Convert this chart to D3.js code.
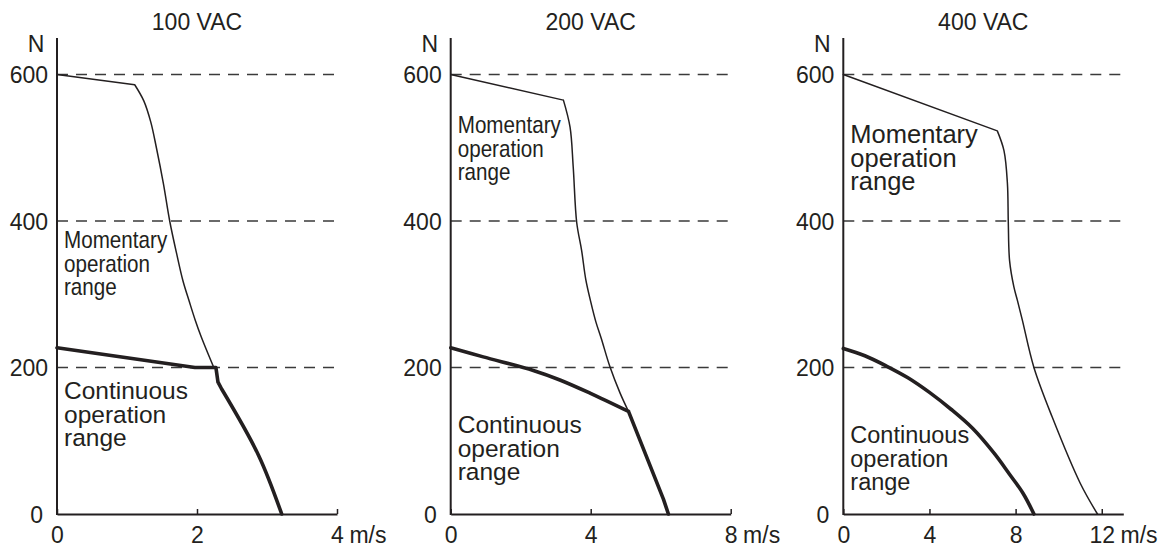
<!DOCTYPE html>
<html><head><meta charset="utf-8">
<script src="https://cdn.jsdelivr.net/npm/d3@7"></script>
<style>
body{margin:0;background:#fff}
svg{display:block}
text{font-family:"Liberation Sans",Arial,Helvetica,sans-serif;fill:#231f20}
</style>
</head><body>
<svg id="chart" width="1176" height="548"></svg>
<script>
// ---------- data ----------
const panelTitles = ["100 VAC", "200 VAC", "400 VAC"];
const xMaxValues = [4, 8, 13];
const xTickValues = [[0, 2, 4], [0, 4, 8], [0, 4, 8, 12]];
const yTickValues = [0, 200, 400, 600];
const gridValues = [200, 400, 600];
const xUnit = "m/s";
const yUnit = "N";

const momentary100 = [[0,600],[1.11,586],[1.24,564],[1.34,535],[1.42,500],[1.52,451],[1.61,400],[1.71,355],[1.80,318],[1.89,290],[1.97,266],[2.06,242],[2.24,200]];
const continuous100 = [[0,227],[1.97,200],[2.27,200],[2.30,180],[2.35,171],[2.88,80],[3.21,0]];

const momentary200 = [[0,600],[3.22,565],[3.41,528],[3.50,474],[3.60,398],[3.74,360],[3.86,320],[4.00,290],[4.15,262],[4.30,240],[4.55,201],[4.84,165],[5.08,140]];
const continuous200 = [[0,227],[0.93,214.5],[2.36,196],[3.12,183],[3.98,165],[5.08,140],[6.08,20],[6.22,0]];

const momentary400 = [[0,600],[7.15,523],[7.46,496],[7.62,451],[7.66,399],[7.72,346],[7.92,310],[8.08,292],[8.31,265],[8.85,200],[9.69,133],[11.0,42],[11.8,0]];
const continuous400 = [[0,226],[1,216],[2,202],[3,186],[4,166],[5,143],[6,117],[7,83],[7.7,55],[8.35,28],[8.85,0]];

const momentarySeries = [momentary100, momentary200, momentary400];
const continuousSeries = [continuous100, continuous200, continuous400];

const momentaryText = ["Momentary", "operation", "range"];
const continuousText = ["Continuous", "operation", "range"];
// label anchors (first baseline, in N units)
const momentaryLabelN = [362.7, 519.6, 506];
const continuousLabelN = [156.8, 110, 96.4];

// ---------- layout / style ----------
// indexes of sharp corners in each line (line is smoothed between corners)
const momentaryCorners = [[1], [1], [1]];
const continuousCorners = [[1, 2, 3, 4], [5, 6], []];

const svg = d3.select("#chart");
const plotW = 280, yBottom = 514, yTopTick = 74.5, axisTop = 38;
const lefts = [57, 450.7, 843.3];
const ink = "#231f20";
const momStyle = [{size:24, sx:0.86},{size:24, sx:0.86},{size:25.5, sx:1}];
const contSize = [24.5, 24.5, 23.5];

function pieces(data, corners) {
  const cuts = [0, ...corners, data.length - 1];
  const out = [];
  for (let k = 0; k < cuts.length - 1; k++) out.push(data.slice(cuts[k], cuts[k + 1] + 1));
  return out;
}

panelTitles.forEach((title, i) => {
  const g = svg.append("g").attr("transform", `translate(${lefts[i]},0)`);
  const x = d3.scaleLinear().domain([0, xMaxValues[i]]).range([0, plotW]);
  const y = d3.scaleLinear().domain([0, 600]).range([yBottom, yTopTick]);

  // dashed grid
  g.selectAll("line.grid").data(gridValues).join("line")
    .attr("class","grid")
    .attr("x1", 0).attr("x2", plotW)
    .attr("y1", d => y(d)).attr("y2", d => y(d))
    .attr("stroke", "#3a3a3a").attr("stroke-width", 1.3)
    .attr("stroke-dasharray", "11,8");

  // x axis
  const xAxis = d3.axisBottom(x).tickValues(xTickValues[i]).tickSize(-5).tickSizeOuter(0).tickFormat(d3.format("d"));
  const xg = g.append("g").attr("transform", `translate(0,${yBottom})`).call(xAxis);
  xg.select(".domain").attr("stroke", ink).attr("stroke-width", 2);
  xg.selectAll(".tick line").attr("stroke", ink).attr("stroke-width", 1.5);
  xg.selectAll(".tick text").attr("y", 29).attr("dy", 0)
    .style("font-size", "23px").attr("fill", ink);
  const lastTick = xTickValues[i][xTickValues[i].length - 1];
  const lastText = xg.selectAll(".tick text").filter(d => d === lastTick).node();
  const lw = lastText.getComputedTextLength();
  g.append("text").attr("x", x(lastTick) + lw / 2 + 6).attr("y", yBottom + 29)
    .style("font-size", "23px").text(xUnit);

  // y axis
  const yAxis = d3.axisLeft(y).tickValues(yTickValues).tickSize(0).tickPadding(9).tickFormat(d3.format("d"));
  const yg = g.append("g").call(yAxis);
  yg.select(".domain").remove();
  yg.selectAll(".tick text").style("font-size", "23px").attr("fill", ink)
    .attr("dx", d => d === 0 ? -5 : 0).attr("dy", "0.36em");
  g.append("line").attr("x1", 0).attr("x2", 0).attr("y1", yBottom + 1).attr("y2", axisTop)
    .attr("stroke", ink).attr("stroke-width", 2);

  g.append("text").attr("x", -21).attr("y", 52).attr("text-anchor", "middle")
    .style("font-size", "23px").text(yUnit);

  g.append("text").attr("x", plotW / 2).attr("y", 30).attr("text-anchor", "middle")
    .style("font-size", "23px").text(title);

  const line = d3.line().x(d => x(d[0])).y(d => y(d[1])).curve(d3.curveCatmullRom.alpha(0.5));

  // momentary (thin)
  g.append("path")
    .attr("d", pieces(momentarySeries[i], momentaryCorners[i]).map(p => line(p)).join(""))
    .attr("fill", "none").attr("stroke", ink).attr("stroke-width", 1.5)
    .attr("stroke-linejoin", "round").attr("stroke-linecap", "round");

  // continuous (thick)
  g.append("path")
    .attr("d", pieces(continuousSeries[i], continuousCorners[i]).map(p => line(p)).join(""))
    .attr("fill", "none").attr("stroke", ink).attr("stroke-width", 3.6)
    .attr("stroke-linejoin", "round").attr("stroke-linecap", "round");

  // labels
  const ms = momStyle[i];
  const mt = g.append("text")
    .attr("transform", `translate(7,${y(momentaryLabelN[i])}) scale(${ms.sx},1)`)
    .style("font-size", ms.size + "px");
  momentaryText.forEach((t, k) => mt.append("tspan").attr("x", 0).attr("y", k * 23.5).text(t));

  const ct = g.append("text")
    .attr("transform", `translate(7,${y(continuousLabelN[i])})`)
    .style("font-size", contSize[i] + "px");
  continuousText.forEach((t, k) => ct.append("tspan").attr("x", 0).attr("y", k * 23.5).text(t));
});
</script>
</body></html>
